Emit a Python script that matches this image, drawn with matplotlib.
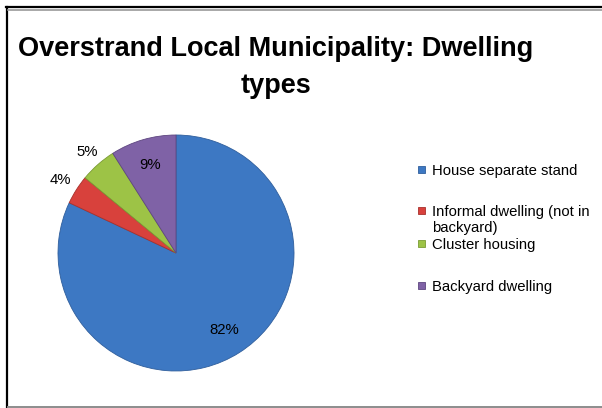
import numpy as np
import matplotlib.pyplot as plt
from matplotlib.patches import Rectangle
from matplotlib.lines import Line2D

# data
categories = ["House separate stand", "Informal dwelling (not in\nbackyard)",
              "Cluster housing", "Backyard dwelling"]
shares = [82, 4, 5, 9]
colors = ["#3D78C3", "#D8413C", "#9DC346", "#7F62A6"]
edges = ["#2F5E9C", "#A8302C", "#7A9B33", "#5E4680"]
label_radius = [0.77, 1.16, 1.14, 0.78]  # where each % label sits

W, H = 602, 408
plt.rcParams["font.family"] = ["Liberation Sans", "DejaVu Sans"]

fig = plt.figure(figsize=(W / 100, H / 100), dpi=100)
fig.patch.set_facecolor("white")

def fx(px):
    return px / W

def fy(py):
    return 1 - py / H

# outer frame
fig.add_artist(Line2D([fx(7), fx(7)], [fy(7), fy(408)], color="black", lw=1.6))
fig.add_artist(Line2D([fx(6), fx(602)], [fy(7), fy(7)], color="black", lw=1.6))
fig.add_artist(Line2D([fx(8), fx(602)], [fy(10), fy(10)], color="#9a9a9a", lw=1.2))
fig.add_artist(Line2D([fx(8), fx(602)], [fy(406.5), fy(406.5)], color="#8c8c8c", lw=1.4))

fig.text(fx(276), fy(36), "Overstrand Local Municipality: Dwelling\ntypes",
         ha="center", va="top", fontsize=19.5, fontweight="bold",
         linespacing=1.55)

# pie
cx, cy, r = 176, 253, 118
ax = fig.add_axes([fx(cx - r), fy(cy + r), 2 * r / W, 2 * r / H])
wedges, _ = ax.pie(shares, colors=colors, startangle=90, counterclock=False,
                   radius=1, wedgeprops=dict(linewidth=0.6))
for w, ec in zip(wedges, edges):
    w.set_edgecolor(ec)
ax.set_xlim(-1, 1)
ax.set_ylim(-1, 1)
ax.set_aspect("equal")
ax.axis("off")

for w, val, rr in zip(wedges, shares, label_radius):
    mid = np.deg2rad((w.theta1 + w.theta2) / 2)
    ax.text(rr * np.cos(mid), rr * np.sin(mid), f"{val}%", ha="center",
            va="center", fontsize=10.7, clip_on=False)

# legend drawn by hand so the wrapped entry keeps its marker on the first line
legend_baselines = [175, 216, 249, 291]
line_step = 16
for lab, col, ec, base in zip(categories, colors, edges, legend_baselines):
    fig.add_artist(Rectangle((fx(418), fy(base - 2)), 6.5 / W, 7 / H,
                             facecolor=col, edgecolor=ec, lw=0.6))
    for i, part in enumerate(lab.split("\n")):
        fig.text(fx(432), fy(base + i * line_step), part, ha="left",
                 va="baseline", fontsize=10.7)

fig.savefig("out.png", dpi=100)
